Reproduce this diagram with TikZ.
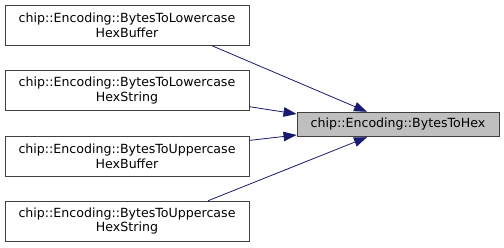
\documentclass[tikz,border=0pt]{standalone}
\usepackage{fontspec}
\setmainfont{DejaVu Sans}
\usetikzlibrary{arrows.meta}
\definecolor{edgeblue}{HTML}{191970}
\definecolor{hexgray}{HTML}{BFBFBF}
\begin{document}
\begin{tikzpicture}[x=1pt,y=-1pt,
	font=\fontsize{12.6}{14.6}\selectfont,
	fn/.style={draw=black!75,line width=0.9pt,fill=white,align=center,inner sep=0pt,minimum width=244pt,minimum height=40pt},
	call/.style={edgeblue,line width=0.8pt,<-,>={Triangle[length=13pt,width=9.5pt]}}]
	\useasboundingbox (0,0) rectangle (504,248);
	% callers on the left
	\node[fn] (lowbuf) at (127,25.3) {chip::Encoding::BytesToLowercase\\HexBuffer};
	\node[fn] (lowstr) at (127,90.7) {chip::Encoding::BytesToLowercase\\HexString};
	\node[fn] (upbuf) at (127,156.4) {chip::Encoding::BytesToUppercase\\HexBuffer};
	\node[fn] (upstr) at (127,221.2) {chip::Encoding::BytesToUppercase\\HexString};
	% the called function
	\node[fn,fill=hexgray,minimum width=202pt,minimum height=24.5pt] (hex) at (398,124.5) {chip::Encoding::BytesToHex};
	\draw[call] ([xshift=-31pt]hex.north) -- ([xshift=85pt]lowbuf.south);
	\draw[call] ([yshift=10.5pt]hex.west) -- ([yshift=-16pt]lowstr.east);
	\draw[call] ([yshift=-10.5pt]hex.west) -- ([yshift=16pt]upbuf.east);
	\draw[call] ([xshift=-31pt]hex.south) -- ([xshift=81pt]upstr.north);
\end{tikzpicture}
\end{document}
